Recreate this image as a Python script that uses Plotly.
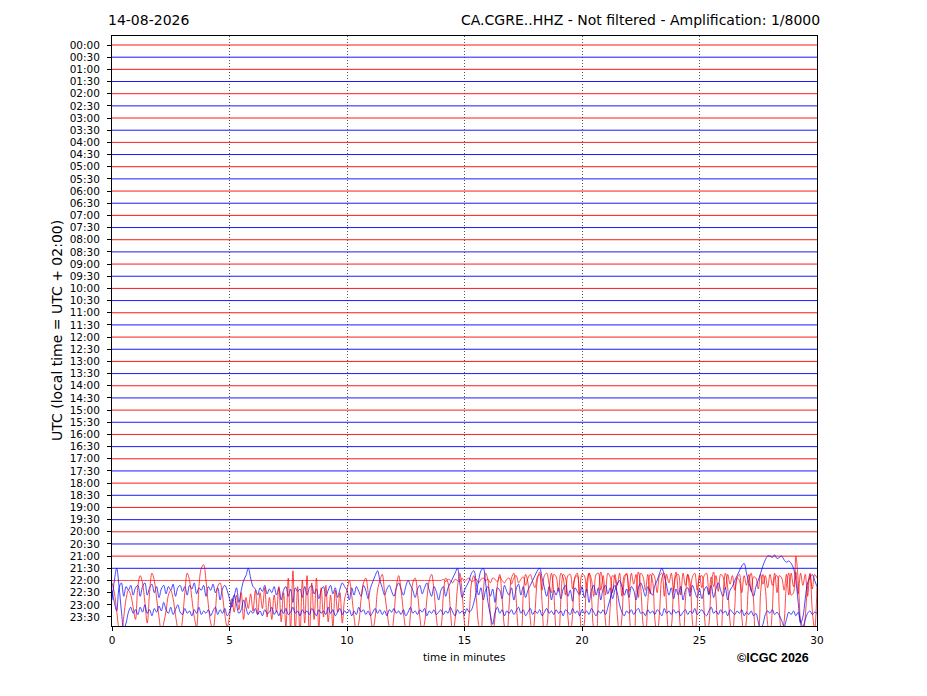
import plotly.graph_objects as go

# ---------------- data ----------------
DATE_LABEL = "14-08-2026"
STATION_TITLE = "CA.CGRE..HHZ - Not filtered - Amplification: 1/8000"
Y_TITLE = "UTC (local time = UTC + 02:00)"
X_TITLE = "time in minutes"
COPYRIGHT = "©ICGC 2026"

row_labels = [
    "00:00", "00:30", "01:00", "01:30", "02:00", "02:30", "03:00", "03:30",
    "04:00", "04:30", "05:00", "05:30", "06:00", "06:30", "07:00", "07:30",
    "08:00", "08:30", "09:00", "09:30", "10:00", "10:30", "11:00", "11:30",
    "12:00", "12:30", "13:00", "13:30", "14:00", "14:30", "15:00", "15:30",
    "16:00", "16:30", "17:00", "17:30", "18:00", "18:30", "19:00", "19:30",
    "20:00", "20:30", "21:00", "21:30", "22:00", "22:30", "23:00", "23:30",
]
x_ticks = [0, 5, 10, 15, 20, 25, 30]

# amplitude of the quiet rows (start, end of the 30-minute window)
quiet_t = [0, 30]
quiet_v = [0, 0]

SAMPLE_MIN = 0.1      # sample spacing (minutes) of the digitised noisy rows
UNITS_PER_ROW = 10    # amplitude units equal to one row spacing

trace_2200 = [
    0,0,0,0,0,0,0,0,0,0,
    0,0,0,0,0,0,0,0,0,0,
    0,0,0,0,0,0,0,0,0,0,
    0,0,0,0,0,0,0,0,0,0,
    0,0,0,0,0,0,0,0,0,0,
    0,0,0,0,0,0,0,0,0,0,
    0,0,0,0,0,0,0,0,0,0,
    0,0,0,0,0,0,0,0,0,0,
    0,0,0,0,0,0,0,0,0,0,
    0,0,0,0,0,0,0,0,0,0,
    0,0,0,0,0,0,0,0,0,0,
    0,0,0,0,0,0,0,0,0,0,
    0,0,0,0,0,0,0,0,0,0,
    0,0,0,0,0,0,0,0,0,0,
    0,1,-1,1,0,-2,1,0,-1,2,
    -1,1,2,-1,0,1,-2,1,2,0,
    1,-2,2,1,-1,3,0,-2,1,2,
    -3,2,4,-2,1,3,-4,2,5,-1,
    -6,3,5,-8,4,6,-3,-10,5,3,
    -9,6,2,-12,4,5,-7,3,6,-11,
    5,4,-9,6,1,-13,5,6,-8,4,
    -12,6,3,-10,5,-4,6,-13,4,5,
    -9,6,-3,5,-14,6,3,-8,5,-11,
    6,2,-10,4,6,-13,5,-2,6,-9,
    4,5,-12,6,-4,5,-10,3,6,-8,
    5,-6,4,6,-11,3,-5,4,-9,5,
    3,-7,5,-3,4,-8,2,5,-10,4,
    -4,5,-9,3,2,-7,5,-3,4,-6,
    5,-4,6,-10,4,2,-8,5,-12,6,
    -5,7,-11,6,-4,5,-13,6,-7,5,
    2,
]

trace_2230 = [
    2,-8,-15,4,8,-3,5,2,6,-2,
    4,6,-3,5,8,-2,4,7,0,5,
    -4,3,6,-1,5,2,7,-3,4,6,
    1,5,-2,6,3,8,-1,4,2,6,
    -3,5,2,7,0,4,-6,3,6,2,
    -5,-12,-3,4,-8,2,10,14,20,12,
    5,3,-2,4,1,6,-1,3,0,5,
    -2,4,-6,2,5,-3,3,-8,4,1,
    3,-4,5,-2,4,6,-1,3,-5,2,
    5,-3,2,6,-1,4,-4,3,8,5,
    2,-6,4,-2,5,1,-3,6,2,-5,
    4,9,14,18,10,4,-2,3,6,1,
    -3,4,8,3,-2,5,10,6,2,-4,
    3,6,-1,4,8,2,-3,5,1,-6,
    2,5,-3,4,8,12,16,20,8,-4,
    2,6,10,16,18,8,-2,4,-6,2,
    5,-3,3,-8,4,2,-5,6,1,-2,
    4,-6,3,7,-2,5,-4,2,6,10,
    14,18,20,12,4,-3,5,-6,2,-2,
    4,-5,3,6,-3,2,-7,4,1,-2,
    5,-4,3,-8,2,6,-2,4,-6,3,
    6,-1,4,-5,2,7,10,5,-2,3,
    -4,5,2,-6,4,8,3,-3,5,1,
    -2,6,10,16,20,14,6,-2,4,-5,
    3,-2,5,-6,2,4,-3,6,1,-4,
    3,-5,2,5,-2,6,-4,3,8,2,
    -3,4,-6,2,5,10,14,18,22,24,
    16,8,2,-3,5,10,16,22,27,30,
    30,29,31,28,29,30,27,25,26,24,
    20,10,-8,-25,-20,-5,8,12,15,10,
    5,
]

trace_2300 = [
    18,10,-5,-20,-25,-10,5,12,8,-2,
    -12,15,24,18,2,-15,10,26,20,5,
    -10,-22,-15,-5,8,12,5,-8,-20,-25,
    -12,10,26,20,5,-10,-18,15,30,33,
    20,0,-15,-20,-5,15,18,8,-8,-18,
    -10,5,-6,8,-4,10,-12,6,-3,9,
    -5,12,-8,10,-3,14,-10,6,-12,8,
    -6,15,-14,10,-18,22,-20,28,-22,15,
    -25,20,-15,24,-28,18,-12,22,-20,14,
    -10,16,-14,8,-18,12,-6,10,-15,5,
    12,20,8,-10,-22,-15,5,18,22,10,
    -8,-20,-10,12,20,25,10,-5,-18,-22,
    -8,15,24,12,-6,-20,-25,-8,18,22,
    10,-10,-22,-15,5,20,25,12,-10,-22,
    -18,8,22,18,-5,-24,-12,14,26,10,
    -15,-25,-8,18,24,6,-16,-22,10,26,
    20,-8,-24,-10,16,25,5,-18,-26,0,
    22,26,4,-20,-24,8,25,18,-12,-25,
    -6,20,27,2,-22,-18,12,26,10,-20,
    -26,4,25,22,-10,-25,-8,22,24,-4,
    -24,-15,18,26,8,-20,-25,6,27,16,
    -14,-26,-2,24,22,-8,-25,-10,20,26,
    4,-22,-24,10,27,14,-16,-26,2,25,
    20,-12,-25,-6,22,26,-2,-24,-18,14,
    27,8,-20,-26,4,25,18,-14,-25,-4,
    22,24,-6,-24,-16,16,27,6,-20,-24,
    8,26,14,-14,-26,-2,22,20,-10,-25,
    -12,18,26,4,-22,-20,10,25,14,-16,
    -26,-4,22,24,-6,-24,-14,16,26,8,
    10,40,20,-15,-28,-10,15,25,-5,-20,
    15,
]

trace_2330 = [
    14,30,40,25,5,-10,-5,4,8,3,
    6,2,8,4,10,3,6,1,7,4,
    9,5,12,6,3,8,2,6,10,4,
    2,7,3,5,1,6,3,8,2,5,
    3,6,1,5,8,2,6,3,7,1,
    4,12,18,10,3,6,14,8,2,5,
    3,7,2,5,1,6,3,4,8,2,
    5,1,6,3,7,2,4,8,3,5,
    1,6,3,5,2,7,4,1,6,3,
    5,2,8,3,6,1,4,7,2,5,
    3,6,1,5,2,8,4,6,2,5,
    1,4,7,3,6,2,5,1,6,4,
    7,3,5,2,6,1,4,8,3,5,
    2,6,4,7,1,5,3,6,2,4,
    6,2,5,3,8,4,1,6,3,5,
    2,7,4,6,12,20,30,38,40,28,
    12,2,-6,4,8,3,6,1,5,3,
    6,2,5,8,3,6,1,4,7,2,
    5,3,6,1,4,7,3,5,2,6,
    3,5,1,6,4,2,7,3,5,1,
    6,3,5,2,7,4,1,5,3,6,
    2,8,15,22,26,20,10,4,1,5,
    3,6,2,5,7,3,4,1,6,3,
    5,2,6,4,1,7,3,5,2,6,
    3,5,1,4,6,2,5,3,7,2,
    4,6,3,1,5,8,3,5,2,6,
    3,5,1,6,4,2,5,3,6,1,
    4,2,5,1,3,-4,-10,-6,2,5,
    3,6,2,4,1,-3,-8,-2,4,2,
    5,1,4,-3,-8,-2,3,5,2,4,
    3,
]

noisy_rows = {
    "22:00": trace_2200,
    "22:30": trace_2230,
    "23:00": trace_2300,
    "23:30": trace_2330,
}

# ---------------- figure ----------------
RED = "rgba(255,0,0,0.9)"
BLUE = "rgba(0,0,255,0.9)"
FONT = "DejaVu Sans"

fig = go.Figure()
for i, lab in enumerate(row_labels):
    color = RED if lab.endswith(":00") else BLUE
    if lab in noisy_rows:
        vals = noisy_rows[lab]
        xs = [k * SAMPLE_MIN for k in range(len(vals))]
        ys = [-i + v / UNITS_PER_ROW for v in vals]
        line = dict(color=color, width=0.8, shape="spline", smoothing=1.0)
    else:
        xs = quiet_t
        ys = [-i + v / UNITS_PER_ROW for v in quiet_v]
        line = dict(color=color, width=1.0)
    fig.add_trace(go.Scatter(
        x=xs, y=ys, mode="lines", line=line,
        showlegend=False, hoverinfo="skip",
    ))

n = len(row_labels)
fig.update_layout(
    width=927, height=696,
    margin=dict(l=104, r=118, t=28, b=78),
    paper_bgcolor="white", plot_bgcolor="white",
    font=dict(family=FONT, color="black", size=10),
    xaxis=dict(
        range=[0, 30], tickvals=x_ticks, ticktext=[str(v) for v in x_ticks],
        ticks="outside", ticklen=4, tickwidth=1, tickcolor="black",
        showline=True, linecolor="black", linewidth=1, mirror=True,
        showgrid=True, gridcolor="#555555", griddash="1px,2px", gridwidth=0.8,
        zeroline=False, tickfont=dict(size=10.5, family=FONT),
    ),
    yaxis=dict(
        range=[-(n - 1) - 0.74, 0.74],
        tickvals=[-i for i in range(n)], ticktext=row_labels,
        ticks="outside", ticklen=4, tickwidth=1, tickcolor="black",
        ticklabelstandoff=5,
        showline=True, linecolor="black", linewidth=1, mirror=True,
        showgrid=False, zeroline=False, tickfont=dict(size=10.5, family=FONT),
    ),
)

fig.add_annotation(text=DATE_LABEL, xref="paper", yref="paper",
                   x=-0.0085, y=1.027, xanchor="left", yanchor="middle",
                   showarrow=False, font=dict(size=14, family=FONT))
fig.add_annotation(text=STATION_TITLE, xref="paper", yref="paper",
                   x=1.0071, y=1.027, xanchor="right", yanchor="middle",
                   showarrow=False, font=dict(size=14, family=FONT))
fig.add_annotation(text=Y_TITLE, xref="paper", yref="paper",
                   x=-0.078, y=0.5, xanchor="center", yanchor="middle",
                   textangle=-90, showarrow=False, font=dict(size=14, family=FONT))
fig.add_annotation(text=X_TITLE, xref="paper", yref="paper",
                   x=0.4993, y=-0.0525, xanchor="center", yanchor="middle",
                   showarrow=False, font=dict(size=10.5, family=FONT))
fig.add_annotation(text="<b>" + COPYRIGHT + "</b>", xref="paper", yref="paper",
                   x=0.9915, y=-0.054, xanchor="right", yanchor="middle",
                   showarrow=False, font=dict(size=12.5, family="Liberation Sans"))

fig.write_html("out.html")
